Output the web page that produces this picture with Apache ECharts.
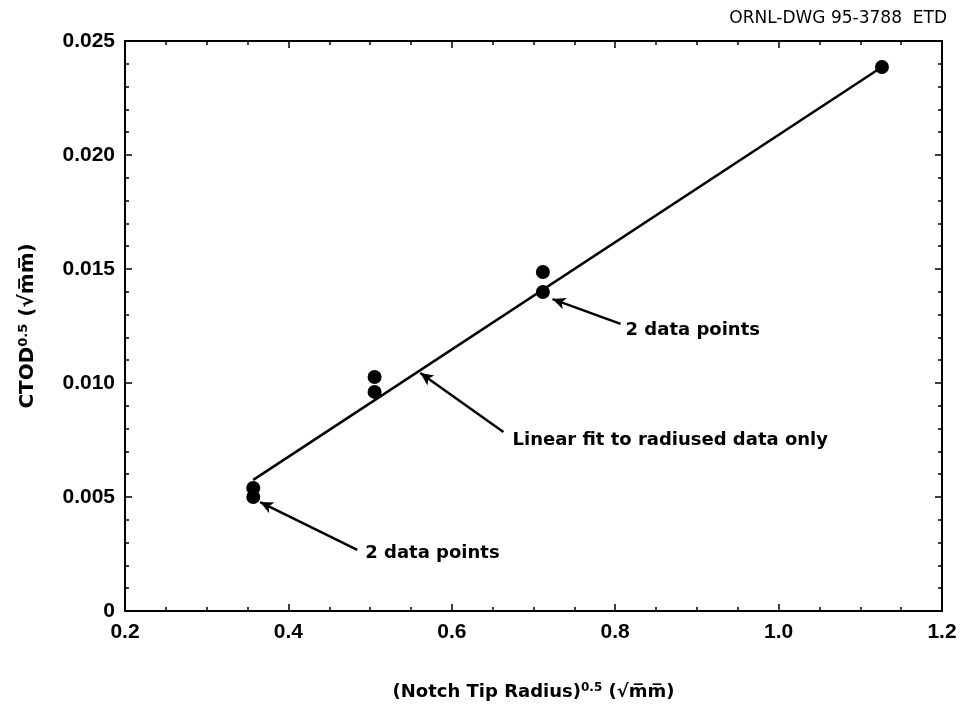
<!DOCTYPE html>
<html>
<head>
<meta charset="utf-8">
<script src="https://cdn.jsdelivr.net/npm/echarts@6/dist/echarts.min.js"></script>
<style>
  html, body { margin: 0; padding: 0; background: #fff; }
  #main { width: 961px; height: 711px; }
</style>
</head>
<body>
<div id="main"></div>
<script>
// measured points: CTOD^0.5 vs notch tip radius^0.5
var radiusX = [0.357, 0.357, 0.5055, 0.5055, 0.7115, 0.7115, 1.1265];
var ctodY = [0.0054, 0.0050, 0.01026, 0.00961, 0.01487, 0.01399, 0.02386];

// linear fit end points
var fitX = [0.357, 1.1265];
var fitY = [0.00575, 0.02386];

// annotation texts and arrows (tail -> head)
var annoText = ['2 data points', 'Linear fit to radiused data only', '2 data points'];
var annoX = [0.8127, 0.6743, 0.4941];
var annoY = [0.01232, 0.0075, 0.00254];
var arrowFrom = [[0.8066, 0.01259], [0.6632, 0.00785], [0.4843, 0.00268]];
var arrowTo = [[0.7233, 0.01368], [0.5615, 0.01044], [0.3654, 0.00478]];

var font = '"Liberation Sans", Arial, sans-serif';
var wide = '"DejaVu Sans", sans-serif';

var myChart = echarts.init(document.getElementById('main'));

var fitData = [];
for (var i = 0; i < fitX.length; i++) fitData.push([fitX[i], fitY[i]]);
var pts = [];
for (var i = 0; i < radiusX.length; i++) pts.push([radiusX[i], ctodY[i]]);
var annoData = [];
for (var i = 0; i < annoText.length; i++) annoData.push({ name: annoText[i], value: [annoX[i], annoY[i]] });
var arrows = [];
for (var i = 0; i < arrowFrom.length; i++) arrows.push([{ coord: arrowFrom[i] }, { coord: arrowTo[i] }]);

var tickStyle = { inside: true, length: 7, lineStyle: { color: '#000', width: 1.5 } };
var minorStyle = { show: true, length: 4, lineStyle: { color: '#000', width: 1.5 } };
var lineStyle = { show: true, onZero: false, lineStyle: { color: '#000', width: 2 } };

function nameRich(size) {
  return {
    b: { fontFamily: wide, fontSize: size, fontWeight: 'bold', color: '#000' },
    s: { fontFamily: wide, fontSize: Math.round(size * 0.65), fontWeight: 'bold', color: '#000', verticalAlign: 'top', padding: [0, 0, 9, 0] }
  };
}

var option = {
  backgroundColor: '#fff',
  animation: false,
  title: {
    text: 'ORNL-DWG 95-3788  ETD',
    right: 9,
    top: 5,
    textStyle: { fontFamily: wide, fontSize: 17, fontWeight: 'normal', color: '#000' }
  },
  grid: { left: 125, right: 19, top: 41, bottom: 100 },
  xAxis: [
    {
      type: 'value', min: 0.2, max: 1.2, interval: 0.2, position: 'bottom',
      axisLine: lineStyle,
      axisTick: tickStyle,
      minorTick: Object.assign({ splitNumber: 4 }, minorStyle),
      splitLine: { show: false },
      axisLabel: {
        margin: 11, color: '#000', fontFamily: font, fontSize: 21, fontWeight: 'bold',
        formatter: function (v) { return v.toFixed(1); }
      },
      name: '{b|(Notch Tip Radius)}{s|0.5}{b| (√m̅m̅)}',
      nameLocation: 'middle',
      nameGap: 71,
      nameTextStyle: { rich: nameRich(18) }
    },
    {
      type: 'value', min: 0.2, max: 1.2, interval: 0.2, position: 'top',
      axisLine: lineStyle,
      axisTick: tickStyle,
      minorTick: Object.assign({ splitNumber: 4 }, minorStyle),
      splitLine: { show: false },
      axisLabel: { show: false }
    }
  ],
  yAxis: [
    {
      type: 'value', min: 0, max: 0.025, interval: 0.005, position: 'left',
      axisLine: lineStyle,
      axisTick: tickStyle,
      minorTick: Object.assign({ splitNumber: 5 }, minorStyle),
      splitLine: { show: false },
      axisLabel: {
        margin: 10, color: '#000', fontFamily: font, fontSize: 21, fontWeight: 'bold',
        formatter: function (v) { return v === 0 ? '0' : v.toFixed(3); }
      },
      name: '{b|CTOD}{s|0.5}{b| (√m̅m̅)}',
      nameLocation: 'middle',
      nameGap: 86,
      nameTextStyle: { rich: nameRich(20) }
    },
    {
      type: 'value', min: 0, max: 0.025, interval: 0.005, position: 'right',
      axisLine: lineStyle,
      axisTick: tickStyle,
      minorTick: Object.assign({ splitNumber: 5 }, minorStyle),
      splitLine: { show: false },
      axisLabel: { show: false }
    }
  ],
  series: [
    {
      name: 'fit',
      type: 'line',
      data: fitData,
      symbol: 'none',
      lineStyle: { color: '#000', width: 2.5 },
      markLine: {
        silent: true,
        symbol: ['none', 'arrow'],
        symbolSize: [9, 13],
        label: { show: false },
        lineStyle: { color: '#000', width: 2.5, type: 'solid' },
        data: arrows
      },
      z: 2
    },
    {
      name: 'data',
      type: 'scatter',
      data: pts,
      symbol: 'circle',
      symbolSize: 14,
      itemStyle: { color: '#000', opacity: 1 },
      z: 3
    },
    {
      name: 'notes',
      type: 'scatter',
      data: annoData,
      symbolSize: 0,
      itemStyle: { opacity: 1 },
      label: {
        show: true,
        position: 'right',
        distance: 0,
        formatter: function (p) { return p.name; },
        color: '#000',
        fontFamily: wide,
        fontSize: 18,
        fontWeight: 'bold'
      },
      z: 4
    }
  ]
};

myChart.setOption(option);
</script>
</body>
</html>
